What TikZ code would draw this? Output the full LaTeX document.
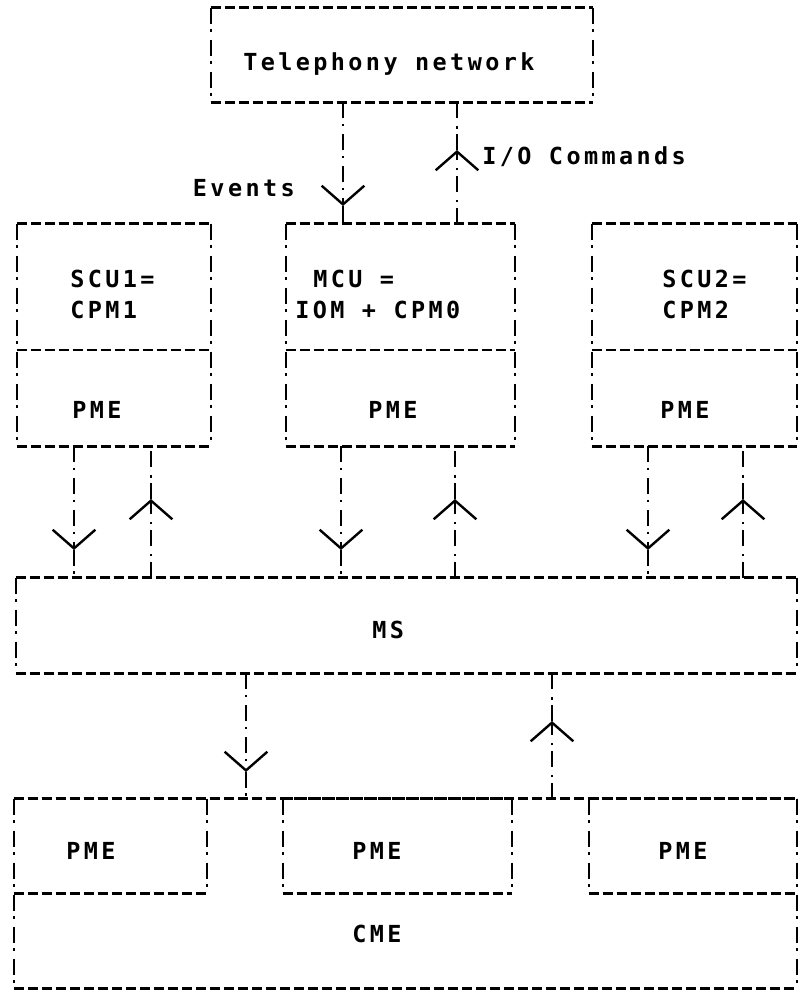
\documentclass[tikz,border=0pt]{standalone}
\usepackage{fontspec}
\newfontfamily\dotfont[LetterSpace=14.5]{DejaVu Sans Mono}
\usetikzlibrary{arrows.meta,fit}
\newcommand\asciibox[1]{%
  \draw[hline] (#1.north west) -- (#1.north east) (#1.south west) -- (#1.south east);
  \draw[vline] (#1.north west) -- (#1.south west) (#1.north east) -- (#1.south east);}
\begin{document}
\begin{tikzpicture}[x=0.75pt,y=-0.75pt,
  hline/.style={line width=2pt, dash pattern=on 7.5pt off 3pt},
  vline/.style={line width=1.8pt, dash pattern=on 12pt off 4pt on 2pt off 6pt},
  area/.style={inner sep=0pt, draw=none},
  lbl/.style={font=\dotfont\bfseries\fontsize{17.6pt}{20pt}\selectfont, inner sep=0pt, anchor=mid west},
  tip/.style={-{Straight Barb[length=14pt,width=32pt,line width=1.8pt]}}]
\useasboundingbox (0,0) rectangle (800,1000);
\fill[white] (0,0) rectangle (800,1000);

% boxes
\node[area, fit={(211,8) (593,102)}] (tel) {};
\node[area, fit={(17,224) (211,446)}] (scu1) {};
\node[area, fit={(286,224) (515,446)}] (mcu) {};
\node[area, fit={(592,224) (797,446)}] (scu2) {};
\node[area, fit={(16,578) (797,673)}] (ms) {};
\node[area, fit={(14,799) (797,988)}] (cme) {};
\node[area, fit={(14,799) (207,893)}] (pmeA) {};
\node[area, fit={(283,799) (512,893)}] (pmeB) {};
\node[area, fit={(589,799) (797,893)}] (pmeC) {};

\asciibox{tel}
\asciibox{scu1}
\asciibox{mcu}
\asciibox{scu2}
\asciibox{ms}
\asciibox{cme}
\asciibox{pmeA}
\asciibox{pmeB}
\asciibox{pmeC}

% dividers
\coordinate (dv) at (0,350);
\draw[hline] (scu1.west |- dv) -- (scu1.east |- dv);
\draw[hline] (mcu.west |- dv) -- (mcu.east |- dv);
\draw[hline] (scu2.west |- dv) -- (scu2.east |- dv);

% texts
\node[lbl] (tTel) at (243,68) {Telephony network};
\node[lbl] (tIO) at (482,162) {I/O Commands};
\node[lbl, anchor=mid east] (tEv) at (295,194) {Events};
\node[lbl] (tS1a) at (70,285) {SCU1=};
\node[lbl] (tS1b) at (70,316) {CPM1};
\node[lbl] (tMa) at (313,285) {MCU =};
\node[lbl] (tMb) at (295,316) {IOM + CPM0};
\node[lbl] (tS2a) at (662,285) {SCU2=};
\node[lbl] (tS2b) at (662,316) {CPM2};
\node[lbl] (tP1) at (72,416) {PME};
\node[lbl] (tP2) at (368,416) {PME};
\node[lbl] (tP3) at (660,416) {PME};
\node[lbl] (tMS) at (372,636) {MS};
\node[lbl] (tP4) at (66,857) {PME};
\node[lbl] (tP5) at (352,857) {PME};
\node[lbl] (tP6) at (658,857) {PME};
\node[lbl] (tCME) at (352,940) {CME};

% arrow tip points
\coordinate (aEv) at (343,206);
\coordinate (aIO) at (457,150);
\coordinate (a1d) at (74,550);
\coordinate (a1u) at (151,499);
\coordinate (a2d) at (341,550);
\coordinate (a2u) at (455,499);
\coordinate (a3d) at (648,550);
\coordinate (a3u) at (743,499);
\coordinate (a4d) at (246,772);
\coordinate (a4u) at (552,721);

% telephony <-> MCU
\draw[vline, tip] (tel.south -| aEv) -- (aEv);
\draw[vline] (aEv) -- (mcu.north -| aEv);
\draw[vline, tip] (mcu.north -| aIO) -- (aIO);
\draw[vline] (aIO) -- (tel.south -| aIO);

% units <-> MS
\draw[vline, tip] (scu1.south -| a1d) -- (a1d);
\draw[vline] (a1d) -- (ms.north -| a1d);
\draw[vline, tip] (ms.north -| a1u) -- (a1u);
\draw[vline] (a1u) -- (scu1.south -| a1u);

\draw[vline, tip] (mcu.south -| a2d) -- (a2d);
\draw[vline] (a2d) -- (ms.north -| a2d);
\draw[vline, tip] (ms.north -| a2u) -- (a2u);
\draw[vline] (a2u) -- (mcu.south -| a2u);

\draw[vline, tip] (scu2.south -| a3d) -- (a3d);
\draw[vline] (a3d) -- (ms.north -| a3d);
\draw[vline, tip] (ms.north -| a3u) -- (a3u);
\draw[vline] (a3u) -- (scu2.south -| a3u);

% MS <-> CME
\draw[vline, tip] (ms.south -| a4d) -- (a4d);
\draw[vline] (a4d) -- (cme.north -| a4d);
\draw[vline, tip] (cme.north -| a4u) -- (a4u);
\draw[vline] (a4u) -- (ms.south -| a4u);
\end{tikzpicture}
\end{document}
